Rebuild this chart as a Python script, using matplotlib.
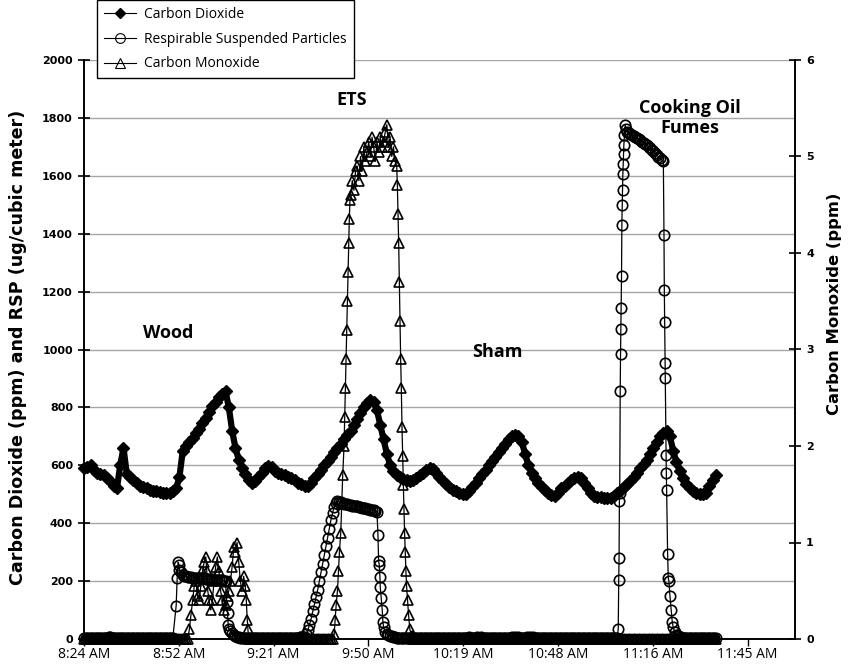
import numpy as np
from matplotlib import pyplot as plt
from matplotlib.lines import Line2D

# time base: minutes after 8:24 AM, one reading per minute
start_label = '8:24 AM'
minutes = np.arange(0, 193)

co2_ppm = [
    590, 595, 600, 585, 575, 570, 565, 555, 545, 530,
    520, 600, 660, 570, 560, 550, 540, 530, 525, 520,
    515, 512, 510, 508, 506, 505, 505, 510, 520, 560,
    650, 665, 680, 695, 710, 725, 745, 765, 785, 805,
    820, 835, 848, 855, 800, 720, 660, 620, 590, 570,
    550, 540, 545, 560, 575, 590, 598, 595, 580, 575,
    570, 565, 560, 555, 548, 540, 535, 530, 530, 540,
    555, 570, 585, 600, 615, 630, 645, 660, 675, 690,
    705, 720, 740, 760, 780, 800, 815, 825, 820, 790,
    740, 690, 640, 600, 580, 565, 558, 552, 548, 545,
    548, 555, 565, 575, 585, 590, 588, 575, 560, 545,
    535, 525, 515, 510, 505, 502, 500, 510, 525, 540,
    555, 570, 585, 600, 615, 630, 645, 660, 675, 690,
    700, 705, 700, 680, 640, 600, 575, 555, 540, 525,
    515, 505, 498, 495, 505, 520, 530, 540, 550, 555,
    560, 555, 540, 520, 505, 495, 490, 490, 488, 487,
    488, 495, 505, 515, 525, 535, 545, 560, 575, 590,
    605, 620, 640, 660, 680, 700, 712, 718, 700, 650,
    610, 580, 555, 535, 520, 510, 505, 500, 500, 505,
    530, 550, 565,
]

rsp_ug = [
    3, 4, 5, 4, 3, 2, 3, 5, 6, 4,
    3, 2, 2, 3, 4, 3, 2, 2, 3, 2,
    2, 3, 4, 3, 2, 3, 4, 5, 115, 240,
    222, 216, 214, 212, 212, 210, 210, 208, 207, 206,
    205, 204, 203, 200, 35, 20, 10, 6, 5, 4,
    4, 3, 3, 4, 5, 4, 3, 3, 2, 3,
    4, 4, 3, 3, 4, 5, 6, 8, 30, 70,
    120, 170, 230, 290, 350, 410, 455, 475, 472, 468,
    465, 462, 460, 458, 455, 452, 450, 447, 445, 440,
    180, 40, 18, 12, 8, 5, 4, 3, 3, 4,
    5, 4, 3, 3, 2, 3, 4, 4, 3, 3,
    4, 5, 4, 3, 3, 4, 5, 6, 5, 4,
    3, 3, 4, 4, 5, 4, 3, 3, 4, 5,
    6, 8, 6, 4, 3, 3, 4, 4, 3, 3,
    4, 5, 4, 3, 3, 4, 5, 4, 3, 3,
    4, 4, 3, 3, 4, 5, 4, 3, 3, 4,
    4, 3, 3, 985, 1705, 1752, 1745, 1738, 1730, 1722,
    1715, 1705, 1695, 1685, 1672, 1660, 1650, 515, 150, 40,
    15, 8, 5, 4, 3, 3, 4, 5, 4, 3,
    3, 4, 3,
]

co_ppm = [
    0, 0, 0, 0, 0, 0, 0, 0, 0, 0,
    0, 0, 0, 0, 0, 0, 0, 0, 0, 0,
    0, 0, 0, 0, 0, 0, 0, 0, 0, 0,
    0, 0, 0.1, 0.4, 0.6, 0.4, 0.7, 0.85, 0.4, 0.4,
    0.75, 0.7, 0.4, 0.35, 0.5, 0.75, 0.9, 0.8, 0.5, 0.55,
    0, 0, 0, 0, 0, 0, 0, 0, 0, 0,
    0, 0, 0, 0, 0, 0, 0, 0, 0, 0,
    0, 0, 0, 0, 0, 0, 0.05, 0.5, 1.1, 2.0,
    3.5, 4.6, 4.65, 4.9, 5.0, 5.1, 5.05, 5.0, 5.1, 5.15,
    5.2, 5.15, 5.33, 5.2, 5.1, 4.9, 3.3, 1.6, 0.55, 0.1,
    0, 0, 0, 0, 0, 0, 0, 0, 0, 0,
    0, 0, 0, 0, 0, 0, 0, 0, 0, 0,
    0, 0, 0, 0, 0, 0, 0, 0, 0, 0,
    0, 0, 0, 0, 0, 0, 0, 0, 0, 0,
    0, 0, 0, 0, 0, 0, 0, 0, 0, 0,
    0, 0, 0, 0, 0, 0, 0, 0, 0, 0,
    0, 0, 0, 0, 0, 0, 0, 0, 0, 0,
    0, 0, 0, 0, 0, 0, 0, 0, 0, 0,
    0, 0, 0, 0, 0, 0, 0, 0, 0, 0,
    0, 0, 0,
]

# RSP and CO monitors also logged on the half minute: runs of readings,
# each run starting at the given minute and stepping by one minute
rsp_half_start = [0.5, 30.5, 45.5, 77.5, 92.5, 165.5, 180.5]
rsp_half_runs = [
    [4, 3, 5, 4, 3, 3, 4, 6, 5, 4, 3, 2, 3, 3, 3, 2, 2, 3, 2, 2,
     3, 3, 4, 3, 2, 3, 4],
    [219, 215, 213, 212, 211, 210, 209, 207, 206, 205, 204, 203, 202],
    [14, 8, 5, 5, 4, 3, 3, 4, 5, 4, 3, 3, 3, 3, 4, 3, 3, 4, 5, 5,
     6, 7],
    [474, 470, 466, 464, 461, 459, 456, 453, 451, 449, 446, 443],
    [15, 10, 6, 4, 4, 3, 3, 4, 5, 4, 4, 3, 2, 3, 4, 4, 4, 3, 3,
     4, 5, 5, 4, 3, 3, 4, 5, 6, 6, 5, 4, 3, 3, 4, 4, 5, 5, 4, 3,
     3, 4, 5, 6, 7, 7, 5, 4, 3, 3, 4, 4, 3, 3, 4, 5, 5, 4, 3, 3,
     4, 5, 5, 4, 3, 3, 4, 4, 4, 3, 3],
    [1748, 1742, 1734, 1726, 1718, 1710, 1700, 1690, 1678, 1666, 1655],
    [12, 6, 4, 4, 3, 4, 4, 5, 4, 3, 4, 3],
]

co_half_start = [0.5, 50.5, 100.5]
co_half_runs = [
    [0, 0, 0, 0, 0, 0, 0, 0, 0, 0, 0, 0, 0, 0, 0, 0,
     0, 0, 0, 0, 0, 0, 0, 0, 0, 0, 0, 0, 0, 0, 0, 0],
    [0, 0, 0, 0, 0, 0, 0, 0, 0, 0, 0, 0, 0,
     0, 0, 0, 0, 0, 0, 0, 0, 0, 0, 0, 0, 0],
    [0, 0, 0, 0, 0, 0, 0, 0, 0, 0, 0, 0, 0, 0, 0, 0, 0, 0, 0, 0, 0, 0, 0,
     0, 0, 0, 0, 0, 0, 0, 0, 0, 0, 0, 0, 0, 0, 0, 0, 0, 0, 0, 0, 0, 0, 0,
     0, 0, 0, 0, 0, 0, 0, 0, 0, 0, 0, 0, 0, 0, 0, 0, 0, 0, 0, 0, 0, 0, 0,
     0, 0, 0, 0, 0, 0, 0, 0, 0, 0, 0, 0, 0, 0, 0, 0, 0, 0, 0, 0, 0, 0, 0],
]

# extra readings logged in quick succession while a source was burning
rsp_fast_min = [28.3, 28.6, 28.9, 29.5, 43.3, 43.6, 43.8, 44.5,
                67.5, 68.5, 69.5, 70.5, 71.5, 72.5, 73.5, 74.5, 75.5, 76.5,
                89.3, 89.5, 89.7, 89.9, 90.3, 90.6, 90.8, 91.5,
                162.3, 162.45, 162.55, 162.65, 162.75, 162.9,
                163.1, 163.2, 163.3, 163.4, 163.5, 163.6, 163.7, 163.8, 163.9,
                164.2, 164.4, 164.7,
                176.2, 176.3, 176.4, 176.5, 176.6, 176.8, 176.9,
                177.3, 177.5, 177.7, 178.4, 178.7, 179.5]
rsp_fast_ug = [210, 265, 255, 230, 128, 90, 48, 28,
               18, 50, 95, 145, 200, 260, 320, 380, 435, 470,
               360, 270, 255, 215, 140, 100, 60, 25,
               35, 205, 280, 478, 505, 855,
               1070, 1145, 1255, 1430, 1500, 1550, 1605, 1640, 1675,
               1740, 1775, 1760,
               1395, 1205, 1095, 955, 900, 635, 575,
               295, 210, 200, 100, 60, 25]

co_fast_min = [32.5, 33.5, 34.5, 35.5, 36.5, 37.3, 37.6, 38.5, 39.5, 40.5,
               41.5, 42.5, 43.5, 44.5, 45.5, 46.5, 47.5, 48.5, 49.3, 49.6, 49.8,
               76.3, 76.6, 77.3, 77.6, 78.3, 78.6,
               79.2, 79.4, 79.6, 79.8, 80.2, 80.4, 80.6, 80.8,
               81.5, 82.5, 83.5, 84.5, 85.5, 86.5, 87.5, 88.5, 89.5,
               90.5, 91.5, 92.5, 93.5, 94.5,
               95.2, 95.4, 95.6, 95.8, 96.2, 96.4, 96.6, 96.8,
               97.2, 97.4, 97.6, 97.8, 98.3, 98.6, 99.5]
co_fast_ppm = [0.25, 0.55, 0.45, 0.55, 0.8, 0.7, 0.5, 0.3, 0.6, 0.85,
               0.5, 0.3, 0.45, 0.6, 0.95, 1.0, 0.6, 0.65, 0.4, 0.2, 0.1,
               0.2, 0.35, 0.7, 0.9, 1.4, 1.7,
               2.3, 2.6, 2.9, 3.2, 3.8, 4.1, 4.35, 4.55,
               4.75, 4.85, 4.75, 4.85, 4.95, 5.15, 5.2, 4.95, 5.05,
               5.1, 5.25, 5.1, 5.0, 4.95,
               4.7, 4.4, 4.1, 3.7, 2.9, 2.6, 2.2, 1.9,
               1.35, 1.1, 0.9, 0.7, 0.4, 0.25, 0.03]

tick_labels = ['8:24 AM', '8:52 AM', '9:21 AM', '9:50 AM',
               '10:19 AM', '10:48 AM', '11:16 AM', '11:45 AM']

events = ['Wood', 'ETS', 'Sham', 'Cooking Oil\nFumes']
event_min = [25.5, 81.4, 125.5, 184]
event_level = [1057, 1862, 991, 1800]


def runs_to_points(starts, runs):
    t, v = [], []
    for s, run in zip(starts, runs):
        t.extend(s + np.arange(len(run)))
        v.extend(run)
    return t, v


def merge(*pairs):
    t = np.concatenate([np.asarray(p[0], float) for p in pairs])
    v = np.concatenate([np.asarray(p[1], float) for p in pairs])
    order = np.argsort(t, kind='stable')
    return t[order], v[order]


rsp_t, rsp_v = merge((minutes, rsp_ug),
                     runs_to_points(rsp_half_start, rsp_half_runs),
                     (rsp_fast_min, rsp_fast_ug))
co_t, co_v = merge((minutes, co_ppm),
                   runs_to_points(co_half_start, co_half_runs),
                   (co_fast_min, co_fast_ppm))

fig = plt.figure(figsize=(8.53, 6.65), dpi=100)
ax = fig.add_axes([84 / 853, 1 - 639 / 665, 711 / 853, 579 / 665])
ax2 = ax.twinx()

ax.yaxis.grid(True, color='#a6a6a6', lw=1.0)
ax.set_axisbelow(True)

# CO2 readings are so close together that they merge into one heavy band
l1, = ax.plot(minutes, co2_ppm, color='black', lw=4.5, marker='D', ms=6.5,
              mfc='black', mec='black', clip_on=False, zorder=3,
              solid_joinstyle='round', solid_capstyle='round')
l2, = ax.plot(rsp_t, rsp_v, color='black', lw=0.9, marker='o', ms=7.5,
              mfc='none', mec='black', mew=1.2, clip_on=False, zorder=2)
l3, = ax2.plot(co_t, co_v, color='black', lw=0.9, marker='^', ms=7.5,
               mfc='none', mec='black', mew=1.2, clip_on=False)

ax.set_xlim(0, 216)
ax.set_ylim(0, 2000)
ax2.set_ylim(0, 6)
ax.set_xticks(np.arange(8) * 28.8)
ax.set_xticklabels(tick_labels, family='Open Sans', fontsize=10)
ax.set_yticks(np.arange(0, 2001, 200))
ax2.set_yticks(np.arange(0, 7))

for a in (ax, ax2):
    a.spines['top'].set_visible(False)
    for s in a.spines.values():
        s.set_linewidth(1.2)
    a.tick_params(axis='y', direction='inout', length=9, width=1.2,
                  labelsize=8)
    for lab in a.get_yticklabels():
        lab.set_fontweight('bold')
ax.tick_params(axis='x', direction='out', length=5, width=1, pad=1)

fig.text(18 / 853, 1 - 347 / 665, 'Carbon Dioxide (ppm) and RSP (ug/cubic meter)',
         rotation=90, ha='center', va='center', fontsize=12.6, fontweight='bold')
fig.text(835 / 853, 1 - 304 / 665, 'Carbon Monoxide (ppm)',
         rotation=90, ha='center', va='center', fontsize=11.8, fontweight='bold')

for name, x, y in zip(events, event_min, event_level):
    ax.text(x, y, name, ha='center', va='center', fontsize=13,
            fontweight='bold', family='Open Sans', linespacing=1.2)

handles = [Line2D([], [], color='black', lw=0.8, marker='D', ms=5, mfc='black'),
           Line2D([], [], color='black', lw=0.8, marker='o', ms=7, mfc='none', mew=0.8),
           Line2D([], [], color='black', lw=0.8, marker='^', ms=7, mfc='none', mew=0.8)]
leg = fig.legend(handles, ['Carbon Dioxide', 'Respirable Suspended Particles', 'Carbon Monoxide'],
                 loc='upper left', bbox_to_anchor=(97 / 853, 1.0),
                 frameon=True, fancybox=False, edgecolor='black', framealpha=1,
                 borderaxespad=0, handlelength=2.3, handletextpad=0.6,
                 labelspacing=0.7, borderpad=0.5,
                 prop={'family': 'Open Sans', 'size': 10})
leg.get_frame().set_linewidth(1.0)

fig.savefig('out.png', dpi=100)
